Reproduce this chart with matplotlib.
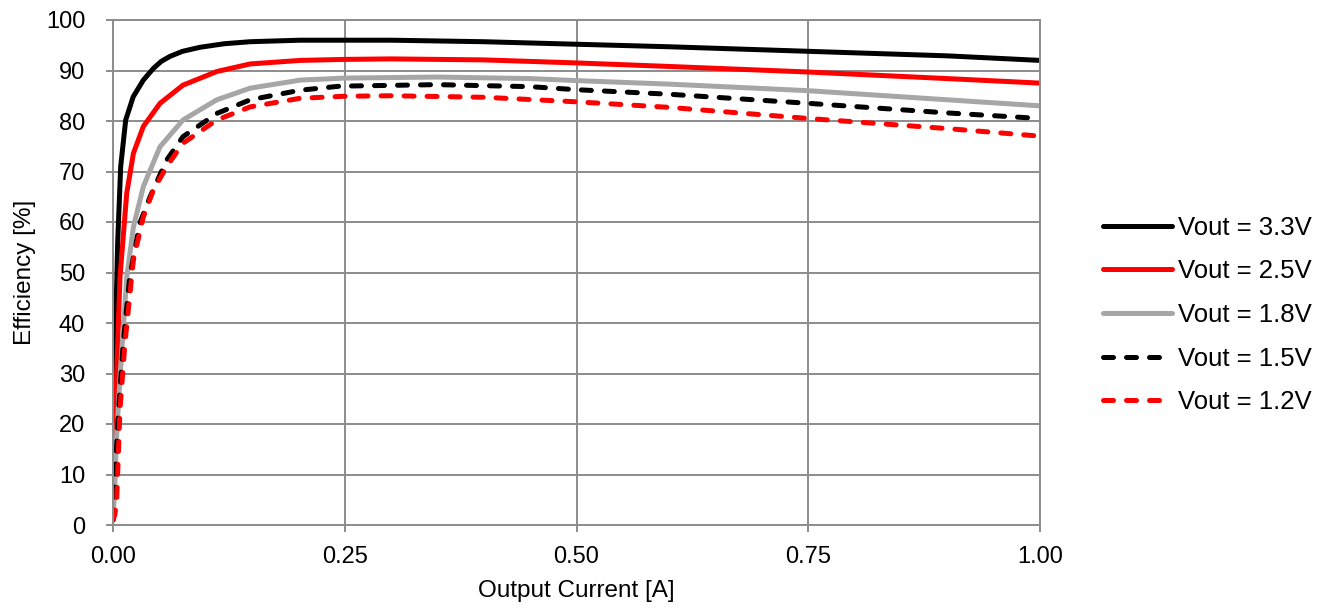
import matplotlib
matplotlib.use("Agg")
import matplotlib.pyplot as plt

plt.rcParams['font.family'] = ['Liberation Sans', 'DejaVu Sans']

# Output current [A] and efficiency [%] for each output voltage
i_33 = [0.0, 0.001, 0.003, 0.005, 0.0083, 0.0137, 0.0218, 0.0327, 0.0435, 0.052, 0.0615, 0.075, 0.094, 0.12, 0.148, 0.202, 0.25, 0.30, 0.40, 0.50, 0.60, 0.75, 0.90, 1.00]
e_33 = [1.0, 18.0, 40.0, 55.8, 71.0, 80.2, 84.8, 88.1, 90.4, 91.8, 92.8, 93.8, 94.6, 95.3, 95.7, 96.0, 96.0, 96.0, 95.7, 95.2, 94.7, 93.8, 92.9, 92.0]

i_25 = [0.0, 0.002, 0.004, 0.0075, 0.0148, 0.022, 0.0327, 0.0507, 0.0755, 0.112, 0.148, 0.202, 0.25, 0.30, 0.40, 0.50, 0.60, 0.75, 0.90, 1.00]
e_25 = [1.0, 12.0, 30.0, 49.0, 65.7, 73.6, 78.9, 83.5, 87.1, 89.8, 91.3, 92.0, 92.2, 92.3, 92.1, 91.5, 90.8, 89.7, 88.4, 87.5]

i_18 = [0.0, 0.002, 0.004, 0.0075, 0.0148, 0.022, 0.0327, 0.0507, 0.0755, 0.112, 0.148, 0.202, 0.25, 0.35, 0.45, 0.50, 0.60, 0.75, 0.90, 1.00]
e_18 = [1.0, 8.0, 18.0, 29.0, 49.0, 59.0, 67.0, 74.9, 80.2, 84.2, 86.5, 88.1, 88.5, 88.7, 88.4, 88.0, 87.3, 86.0, 84.2, 83.0]

i_15 = [0.0, 0.002, 0.005, 0.011, 0.018, 0.029, 0.040, 0.058, 0.0755, 0.112, 0.148, 0.202, 0.245, 0.35, 0.45, 0.50, 0.60, 0.75, 0.90, 1.00]
e_15 = [1.0, 8.0, 20.0, 36.0, 49.0, 59.8, 65.0, 72.3, 76.9, 81.5, 84.2, 86.1, 86.9, 87.2, 86.8, 86.2, 85.3, 83.5, 81.6, 80.5]

i_12 = [0.0, 0.002, 0.004, 0.0075, 0.0129, 0.022, 0.0327, 0.0435, 0.058, 0.0755, 0.112, 0.148, 0.202, 0.25, 0.30, 0.40, 0.50, 0.60, 0.75, 0.90, 1.00]
e_12 = [1.0, 2.0, 5.0, 22.8, 36.0, 52.5, 61.0, 66.3, 71.0, 75.6, 80.2, 82.8, 84.5, 84.9, 85.0, 84.7, 83.8, 82.7, 80.5, 78.5, 77.0]

labels = ["Vout = 3.3V", "Vout = 2.5V", "Vout = 1.8V", "Vout = 1.5V", "Vout = 1.2V"]
x_ticks = [0.0, 0.25, 0.50, 0.75, 1.00]
x_tick_labels = ["0.00", "0.25", "0.50", "0.75", "1.00"]
y_ticks = list(range(0, 101, 10))

fig = plt.figure(figsize=(13.24, 6.08), dpi=100)
ax = fig.add_axes([113/1324, 1 - 525/608, (1040-113)/1324, (525-20)/608])

lw = 3.6
dash = (2.0, 2.6)
ax.plot(i_33, e_33, color='#000000', lw=lw, solid_capstyle='round', solid_joinstyle='round', label=labels[0])
ax.plot(i_25, e_25, color='#FF0000', lw=lw, solid_capstyle='round', solid_joinstyle='round', label=labels[1])
ax.plot(i_18, e_18, color='#A6A6A6', lw=lw, solid_capstyle='round', solid_joinstyle='round', label=labels[2])
ax.plot(i_15, e_15, color='#000000', lw=lw, dashes=dash, dash_capstyle='round', label=labels[3])
ax.plot(i_12, e_12, color='#FF0000', lw=lw, dashes=dash, dash_capstyle='round', label=labels[4])

ax.set_xlim(0, 1.0)
ax.set_ylim(0, 100)
ax.set_xticks(x_ticks)
ax.set_xticklabels(x_tick_labels)
ax.set_yticks(y_ticks)
ax.grid(True, color='#8C8C8C', lw=1.4)
ax.set_axisbelow(True)
for s in ax.spines.values():
    s.set_color('#8C8C8C')
    s.set_linewidth(1.4)
ax.tick_params(axis='both', direction='out', length=5, width=1.4, color='#8C8C8C',
               labelsize=17, labelcolor='#000000')
ax.tick_params(axis='y', pad=15)
ax.tick_params(axis='x', pad=10)
ax.set_xlabel("Output Current [A]", fontsize=17.5)
ax.set_ylabel("Efficiency [%]", fontsize=17.5)
ax.xaxis.set_label_coords(0.5, -0.108)
ax.yaxis.set_label_coords(-0.083, 0.5)

leg = ax.legend(loc='center left', bbox_to_anchor=(1103/1324, 1 - 315/608),
                bbox_transform=fig.transFigure, frameon=False, fontsize=18.5,
                handlelength=2.7, handletextpad=0.2, labelspacing=0.76,
                borderpad=0, borderaxespad=0)

fig.savefig("out.png", dpi=100)
